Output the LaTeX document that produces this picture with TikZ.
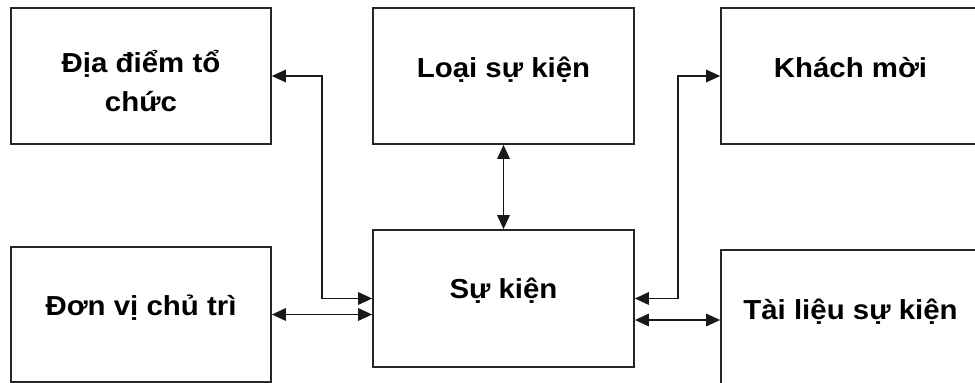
\documentclass[tikz,border=0pt]{standalone}
\usepackage{fontspec}
\setmainfont{Liberation Sans}[FakeStretch=1.07]
\usetikzlibrary{arrows.meta}
\begin{document}
\begin{tikzpicture}[x=1pt,y=-1pt,
  box/.style={draw=black!85, line width=1.7pt, rectangle, inner sep=0pt},
  lbl/.style={font=\fontsize{27.5}{39.5}\selectfont\bfseries, inner sep=0pt, align=center, anchor=base},
  conn/.style={line width=1.6pt, draw=black!90, {Triangle[length=14pt,width=12.5pt]}-{Triangle[length=14pt,width=12.5pt]}}
]
\useasboundingbox (0,0) rectangle (975,383);
\begin{scope}
\clip (0,0) rectangle (975,383);
\node[box, minimum width=260pt, minimum height=136pt] (A) at (141,76) {};
\node[box, minimum width=261pt, minimum height=136pt] (L) at (503.5,76) {};
\node[box, minimum width=259pt, minimum height=136pt] (K) at (850.5,76) {};
\node[box, minimum width=260pt, minimum height=135pt] (D) at (141,314.5) {};
\node[box, minimum width=261pt, minimum height=137pt] (S) at (503.5,298.5) {};
\node[box, minimum width=259pt, minimum height=140pt] (T) at (850.5,320) {};

\node[lbl] (tA) at (141,111.5) {Địa điểm tổ\\chức};
\node[lbl] (tL) at (503.5,77) {Loại sự kiện};
\node[lbl] (tK) at (850.5,77) {Khách mời};
\node[lbl] (tD) at (141,315) {Đơn vị chủ trì};
\node[lbl] (tS) at (503.5,298) {Sự kiện};
\node[lbl] (tT) at (850.5,319) {Tài liệu sự kiện};

\draw[conn] (A.east) -- ++(50,0) |- (S.west);
\draw[conn] (S.east) -- ++(43,0) |- (K.west);
\draw[conn] (D.east) -- (D.east -| S.west);
\draw[conn] (S.east |- T.west) -- (T.west);
\draw[conn] (L.south) -- (S.north);
\end{scope}
\end{tikzpicture}
\end{document}
